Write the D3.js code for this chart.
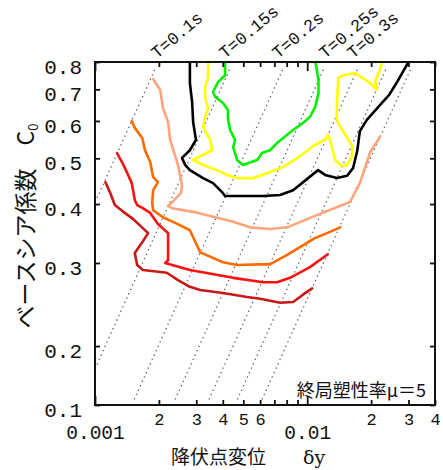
<!DOCTYPE html>
<html>
<head>
<meta charset="utf-8">
<script src="https://cdn.jsdelivr.net/npm/d3@7/dist/d3.min.js"></script>
<style>
html,body{margin:0;padding:0;background:#fff;}
svg{display:block;}
</style>
</head>
<body>
<svg id="chart" width="443" height="470"></svg>
<script>
// ---------------- data ----------------
const xDomain = [0.001, 0.04];
const yDomain = [0.15, 0.8];
const xTickValues = [0.001,0.002,0.003,0.004,0.005,0.006,0.007,0.008,0.009,0.01,0.02,0.03,0.04];
const xTickLabels = ["0.001","2","3","4","5","6","","","","0.01","2","3","4"];
const yTickValues = [0.15,0.2,0.3,0.4,0.5,0.6,0.7,0.8];
const yTickLabels = ["0.1","0.2","0.3","0.4","0.5","0.6","0.7","0.8"];

// period guide lines (dotted): [δy at top, δy at bottom]
const periodTopC0 = 0.77;
const periodBottomC0 = 0.153;
const periodTopDy    = [0.00191, 0.0043, 0.00765, 0.0119, 0.0172, 0.0234, 0.0306];
const periodBottomDy = [0.00038, 0.000855, 0.00152, 0.00237, 0.00342, 0.00465, 0.00608];
const periodLabels   = ["T=0.1s","T=0.15s","T=0.2s","T=0.25s","T=0.3s"];
const periodLabelDy  = [0.00196, 0.0041, 0.00729, 0.01213, 0.01644];

// contour curves: [δy, C0]
const curveDarkRed = [[0.00112,0.445],[0.00118,0.422],[0.00124,0.398],[0.00136,0.385],[0.00151,0.372],[0.00178,0.347],[0.00167,0.332],[0.00154,0.315],[0.00158,0.297],[0.00168,0.290],[0.00218,0.286],[0.00246,0.276],[0.00280,0.267],[0.00313,0.263],[0.00401,0.259],[0.00521,0.254],[0.00600,0.252],[0.00745,0.247],[0.00858,0.248],[0.00955,0.257],[0.01055,0.265]];
const curveRed = [[0.00127,0.513],[0.00134,0.491],[0.00142,0.465],[0.00149,0.443],[0.00154,0.408],[0.00158,0.398],[0.00168,0.392],[0.00182,0.383],[0.00198,0.363],[0.00221,0.347],[0.00221,0.304],[0.00214,0.300],[0.00280,0.290],[0.00448,0.279],[0.00620,0.273],[0.00721,0.273],[0.00830,0.279],[0.01030,0.294],[0.01250,0.313]];
const curveOrange = [[0.00149,0.600],[0.00154,0.580],[0.00167,0.552],[0.00172,0.520],[0.00182,0.491],[0.00188,0.456],[0.00198,0.445],[0.00188,0.428],[0.00186,0.402],[0.00188,0.388],[0.00209,0.375],[0.00244,0.363],[0.00280,0.352],[0.00313,0.316],[0.00401,0.301],[0.00467,0.297],[0.00600,0.298],[0.00668,0.298],[0.00804,0.312],[0.00998,0.331],[0.0109,0.339],[0.0124,0.347],[0.0143,0.357]];
const curveSalmon = [[0.00188,0.736],[0.00203,0.698],[0.00209,0.639],[0.00221,0.597],[0.00226,0.547],[0.00246,0.484],[0.00257,0.439],[0.00254,0.422],[0.00221,0.396],[0.00231,0.392],[0.00290,0.385],[0.00448,0.367],[0.00538,0.357],[0.00668,0.354],[0.00804,0.357],[0.0111,0.379],[0.0159,0.404],[0.0177,0.443],[0.0198,0.515],[0.0220,0.555]];
const curveBlack = [[0.0028,0.80],[0.0028,0.722],[0.00287,0.655],[0.0029,0.597],[0.00299,0.547],[0.0028,0.520],[0.00257,0.501],[0.00266,0.484],[0.0028,0.472],[0.00323,0.454],[0.0036,0.443],[0.00397,0.424],[0.0041,0.416],[0.00472,0.416],[0.0062,0.416],[0.00745,0.418],[0.00858,0.428],[0.01125,0.472],[0.01214,0.461],[0.0138,0.454],[0.0154,0.459],[0.01645,0.477],[0.0172,0.518],[0.0177,0.571],[0.0191,0.603],[0.0220,0.648],[0.0243,0.681],[0.0265,0.725],[0.0300,0.80]];
const curveYellow = [[0.00341,0.80],[0.00341,0.74],[0.0033,0.708],[0.0033,0.675],[0.00341,0.639],[0.0033,0.612],[0.00323,0.582],[0.00349,0.547],[0.00356,0.52],[0.0029,0.496],[0.00323,0.484],[0.00376,0.472],[0.00419,0.461],[0.00467,0.454],[0.00556,0.454],[0.0060,0.459],[0.0077,0.479],[0.00925,0.505],[0.01066,0.531],[0.01214,0.547],[0.0125,0.56],[0.0128,0.547],[0.01324,0.518],[0.01353,0.496],[0.0146,0.481],[0.0154,0.484],[0.0163,0.505],[0.0163,0.531],[0.01475,0.571],[0.0138,0.60],[0.0138,0.648],[0.0140,0.74],[0.0148,0.75],[0.0168,0.758],[0.0198,0.722],[0.0213,0.698],[0.0209,0.729],[0.0220,0.769],[0.0225,0.80]];
const curveGreen = [[0.0041,0.80],[0.0041,0.75],[0.0038,0.725],[0.0036,0.691],[0.00368,0.675],[0.00401,0.655],[0.00423,0.633],[0.00423,0.608],[0.00433,0.574],[0.00457,0.547],[0.00448,0.528],[0.00467,0.496],[0.00498,0.484],[0.00581,0.496],[0.00613,0.513],[0.00668,0.52],[0.00721,0.539],[0.00858,0.574],[0.00955,0.594],[0.0103,0.612],[0.0109,0.642],[0.0113,0.688],[0.0113,0.733],[0.0110,0.789],[0.0109,0.80]];

const curves = [curveDarkRed, curveRed, curveOrange, curveSalmon, curveBlack, curveYellow, curveGreen];

// ---------------- styles ----------------
const curveColors = ["#c81818", "#ff1010", "#ff6a00", "#ffa47c", "#000000", "#ffff00", "#00f000"];
const NUM_FONT = "'Liberation Mono', 'DejaVu Sans Mono', monospace";
const JP_FONT = "'Noto Sans CJK JP', 'Noto Sans', sans-serif";
const X0 = 95, X1 = 435, Y0 = 62, Y1 = 405;

const svg = d3.select("#chart");
const x = d3.scaleLog().domain(xDomain).range([X0, X1]);
const y = d3.scaleLog().domain(yDomain).range([Y1, Y0]);
const line = d3.line().x(d => x(d[0])).y(d => y(d[1]));

svg.append("defs").append("clipPath").attr("id", "clip")
  .append("rect").attr("x", X0).attr("y", Y0).attr("width", X1 - X0).attr("height", Y1 - Y0);

// period lines
const pg = svg.append("g").attr("clip-path", "url(#clip)");
periodTopDy.forEach((d, i) => {
  pg.append("path")
    .datum([[d, periodTopC0], [periodBottomDy[i], periodBottomC0]])
    .attr("d", line)
    .attr("fill", "none")
    .attr("stroke", "#666")
    .attr("stroke-width", 1.3)
    .attr("stroke-dasharray", "1.4,3.4");
});

// curves
const cg = svg.append("g").attr("clip-path", "url(#clip)");
curves.forEach((c, i) => {
  cg.append("path").datum(c).attr("d", line)
    .attr("fill", "none")
    .attr("stroke", curveColors[i])
    .attr("stroke-width", 2.6)
    .attr("stroke-linejoin", "round")
    .attr("stroke-linecap", "round");
});

// axes
const isMajor = v => Math.abs(Math.log10(v) - Math.round(Math.log10(v))) < 1e-9;

const gB = svg.append("g").attr("transform", `translate(0,${Y1})`)
  .call(d3.axisBottom(x).tickValues(xTickValues).tickFormat((d, i) => xTickLabels[i]).tickSizeInner(-5).tickSizeOuter(0));
gB.selectAll(".tick line").attr("y2", d => isMajor(d) ? -9 : -5);
gB.selectAll(".tick text")
  .attr("dy", 0)
  .attr("y", d => isMajor(d) ? 34 : 20)
  .style("font-family", NUM_FONT)
  .style("font-size", d => isMajor(d) ? "19.5px" : "17px")
  .attr("fill", "#111");

const gT = svg.append("g").attr("transform", `translate(0,${Y0})`)
  .call(d3.axisTop(x).tickValues(xTickValues).tickFormat("").tickSizeInner(-5).tickSizeOuter(0));
gT.selectAll(".tick line").attr("y2", d => isMajor(d) ? 9 : 5);

const gL = svg.append("g").attr("transform", `translate(${X0},0)`)
  .call(d3.axisLeft(y).tickValues(yTickValues).tickFormat((d, i) => yTickLabels[i]).tickSizeInner(-5).tickSizeOuter(0).tickPadding(13));
gL.selectAll(".tick text")
  .attr("dy", "0.35em")
  .attr("y", 4)
  .style("font-family", NUM_FONT)
  .style("font-size", "21px")
  .attr("fill", "#111");

svg.append("g").attr("transform", `translate(${X1},0)`)
  .call(d3.axisRight(y).tickValues(yTickValues).tickFormat("").tickSizeInner(-5).tickSizeOuter(0));

svg.selectAll(".domain").remove();
svg.selectAll(".tick line").attr("stroke", "#111").attr("stroke-width", 1.8);

// frame
svg.append("rect").attr("x", X0).attr("y", Y0).attr("width", X1 - X0).attr("height", Y1 - Y0)
  .attr("fill", "none").attr("stroke", "#111").attr("stroke-width", 2);

// period labels
periodLabels.forEach((t, i) => {
  const px = x(periodLabelDy[i]);
  svg.append("text")
    .attr("transform", `translate(${px},59) rotate(-40)`)
    .attr("font-family", NUM_FONT)
    .attr("font-size", 17)
    .attr("fill", "#111")
    .text(t);
});

// annotation
svg.append("text")
  .attr("x", 426).attr("y", 397)
  .attr("text-anchor", "end")
  .attr("font-family", JP_FONT)
  .attr("font-size", 18)
  .attr("fill", "#111")
  .text("終局塑性率μ＝5");

// x title (two parts)
svg.append("text")
  .attr("x", 171).attr("y", 464)
  .attr("font-family", JP_FONT)
  .attr("font-size", 19)
  .attr("fill", "#111")
  .text("降伏点変位");
svg.append("text")
  .attr("x", 303).attr("y", 464)
  .attr("font-family", "'DejaVu Serif', 'Liberation Serif', serif")
  .attr("font-size", 19)
  .attr("fill", "#111")
  .text("δy");

// y title
const yt = svg.append("text")
  .attr("transform", "translate(34,226) rotate(-90)")
  .attr("text-anchor", "middle")
  .attr("font-family", JP_FONT)
  .attr("font-size", 23)
  .attr("fill", "#111");
yt.append("tspan").text("ベースシア係数　C");
yt.append("tspan").attr("font-size", 13).attr("dy", 4).text("0");
</script>
</body>
</html>
